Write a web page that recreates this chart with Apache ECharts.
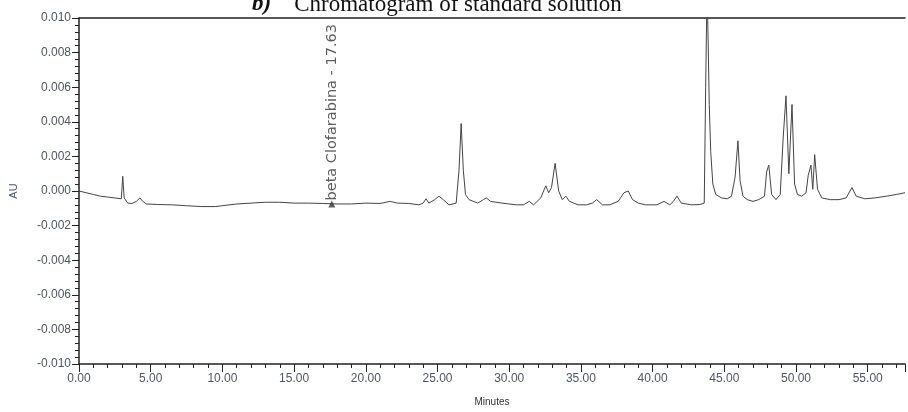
<!DOCTYPE html>
<html lang="en">

<head>
    <meta charset="utf-8">
    <title>Chromatogram</title>
</head>
<script type="text/javascript" src="https://cdn.jsdelivr.net/npm/echarts@6/dist/echarts.min.js"></script>

<body style="margin:0;background:#fff;">
    <div id="myEcharts" style="width: 908px; height: 412px;"></div>
</body>
<script type="text/javascript">
    // retention time (min) and absorbance (AU)
    let times = [0.0, 0.5, 1.0, 1.5, 2.0, 2.5, 2.95, 3.05, 3.15, 3.4, 3.7, 4.0, 4.25, 4.45, 4.7, 5.5, 6.5, 7.5, 8.5, 9.5,
        10.0, 11.0, 12.0, 13.0, 14.0, 15.0, 16.0, 17.0, 18.0, 19.0, 20.0, 21.0, 21.7, 22.2, 23.0, 23.7, 24.0, 24.2, 24.4, 24.8,
        25.1, 25.4, 25.8, 26.3, 26.5, 26.65, 26.8, 26.95, 27.2, 27.8, 28.2, 28.4, 28.7, 29.5, 30.5, 31.0, 31.4, 31.7, 32.2, 32.55,
        32.75, 32.95, 33.2, 33.45, 33.7, 33.95, 34.2, 34.8, 35.4, 35.8, 36.1, 36.5, 37.0, 37.6, 38.0, 38.3, 38.6, 39.0, 39.5, 40.3,
        40.8, 41.2, 41.45, 41.7, 42.0, 42.7, 43.3, 43.6, 43.7, 43.8, 43.95, 44.05, 44.2, 44.4, 44.8, 45.2, 45.5, 45.75, 45.95, 46.1,
        46.3, 46.6, 47.0, 47.4, 47.8, 47.95, 48.1, 48.3, 48.6, 48.9, 49.1, 49.3, 49.5, 49.72, 49.9, 50.1, 50.4, 50.7, 50.85, 51.04,
        51.17, 51.3, 51.5, 51.8, 52.4, 53.0, 53.5, 53.9, 54.2, 54.8, 55.5, 56.3, 57.0, 57.6];
    let au = [0.0, -0.0001, -0.0002, -0.0003, -0.00035, -0.0004, -0.00045, 0.00085, -0.0004, -0.0007, -0.00072, -0.0006, -0.0004, -0.0006, -0.00075, -0.00078, -0.0008, -0.00085, -0.0009, -0.0009,
        -0.00085, -0.00075, -0.0007, -0.00065, -0.00065, -0.0007, -0.0007, -0.00072, -0.00075, -0.00075, -0.0007, -0.00072, -0.0006, -0.0007, -0.00072, -0.0008, -0.0007, -0.00045, -0.0007, -0.0005,
        -0.0003, -0.0005, -0.0008, -0.0007, 0.0012, 0.0039, 0.0012, -0.0002, -0.0005, -0.0007, -0.0005, -0.0004, -0.0006, -0.0007, -0.0008, -0.0008, -0.0006, -0.0008, -0.0004, 0.0003,
        -0.0001, 0.0002, 0.0016, 0.0, -0.0005, -0.0003, -0.0006, -0.0008, -0.0008, -0.0007, -0.0005, -0.0008, -0.0008, -0.0006, -0.0001, 0.0, -0.0005, -0.0007, -0.0008, -0.0008,
        -0.0006, -0.0008, -0.0006, -0.0003, -0.0007, -0.0008, -0.00078, -0.0007, 0.006, 0.012, 0.005, 0.0023, 0.0004, -0.0002, -0.0004, -0.00045, -0.0003, 0.0008, 0.0029, 0.0006,
        -0.0003, -0.0005, -0.0006, -0.0005, -0.0003, 0.0011, 0.0015, -0.0002, -0.0005, -0.0002, 0.003, 0.0055, 0.001, 0.005, 0.0004, -0.0002, -0.0003, -0.0001, 0.0009, 0.0015,
        0.0001, 0.0021, 0.0001, -0.0004, -0.0005, -0.0005, -0.0004, 0.0002, -0.0003, -0.00045, -0.0004, -0.0003, -0.0002, -0.0001];

    let peakName = 'beta Clofarabina - 17.63';
    let peakTime = 17.63;
    let peakAu = -0.00075;

    let trace = times.map((t, i) => [t, au[i]]);

    let labelFont = { color: '#505560', fontFamily: 'Liberation Sans', fontSize: 12 };

    let myChart = echarts.init(document.getElementById('myEcharts'));
    let option = {
        animation: false,
        backgroundColor: '#fff',
        graphic: [{
            type: 'text',
            left: 252,
            top: -7,
            style: {
                text: '{b|b)}    Chromatogram of standard solution',
                font: '23px "Liberation Serif"',
                fill: '#111',
                rich: {
                    b: { font: 'bold italic 23px "Liberation Serif"', fill: '#111' }
                }
            }
        }],
        grid: { left: 78, right: 1, top: 18, bottom: 44 },
        xAxis: [{
            type: 'value',
            min: 0,
            max: 57.6,
            interval: 5,
            name: 'Minutes',
            nameLocation: 'middle',
            nameGap: 33,
            nameTextStyle: { color: '#333', fontFamily: 'Liberation Sans', fontSize: 10 },
            axisLine: { onZero: false, lineStyle: { color: '#222', width: 1.5 } },
            axisTick: { length: 8, lineStyle: { color: '#222' } },
            minorTick: { show: true, splitNumber: 5, length: 4, lineStyle: { color: '#222' } },
            splitLine: { show: false },
            axisLabel: Object.assign({
                margin: 9,
                formatter: v => (v % 5 === 0 ? v.toFixed(2) : '')
            }, labelFont)
        }, {
            type: 'value',
            position: 'top',
            min: 0,
            max: 57.6,
            axisLine: { show: true, onZero: false, lineStyle: { color: '#222', width: 1.5 } },
            axisTick: { show: false },
            axisLabel: { show: false },
            splitLine: { show: false }
        }],
        yAxis: {
            type: 'value',
            min: -0.01,
            max: 0.01,
            interval: 0.002,
            name: 'AU',
            nameLocation: 'middle',
            nameRotate: 90,
            nameGap: 60,
            nameTextStyle: { color: '#4a5570', fontFamily: 'Liberation Sans', fontSize: 11 },
            axisLine: { show: true, onZero: false, lineStyle: { color: '#222', width: 1.5 } },
            axisTick: { length: 7, lineStyle: { color: '#222' } },
            minorTick: { show: true, splitNumber: 5, length: 4, lineStyle: { color: '#222' } },
            splitLine: { show: false },
            axisLabel: Object.assign({
                margin: 8,
                formatter: v => v.toFixed(3)
            }, labelFont)
        },
        series: [{
            type: 'line',
            data: trace,
            showSymbol: false,
            lineStyle: { color: '#444', width: 1 },
            z: 2
        }, {
            type: 'scatter',
            data: [[peakTime, peakAu]],
            symbol: 'triangle',
            symbolSize: 7,
            itemStyle: { color: '#333' },
            label: {
                show: true,
                position: 'top',
                distance: 0,
                rotate: 90,
                align: 'left',
                verticalAlign: 'middle',
                formatter: peakName,
                color: '#333',
                fontFamily: 'DejaVu Sans',
                fontSize: 14.5
            },
            z: 3
        }]
    };
    myChart.setOption(option);
</script>

</html>
